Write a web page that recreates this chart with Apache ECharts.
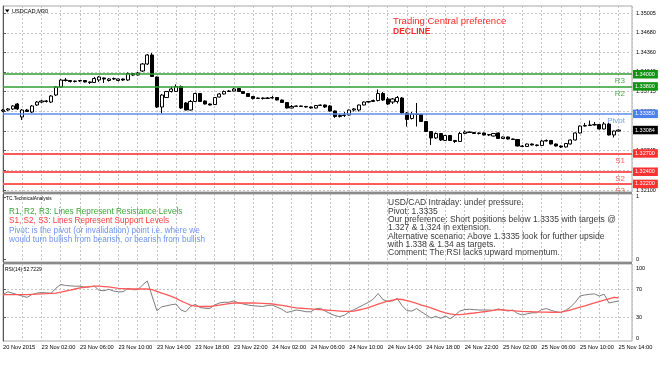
<!DOCTYPE html>
<html><head><meta charset="utf-8">
<script src="https://cdn.jsdelivr.net/npm/echarts@6/dist/echarts.min.js"></script>
<style>html,body{margin:0;padding:0;background:#fff}#c{width:660px;height:380px}</style>
</head><body><div id="c"></div>
<script>
// ---- data ----
const timeLabels = ['20 Nov 2015','23 Nov 02:00','23 Nov 06:00','23 Nov 10:00','23 Nov 14:00','23 Nov 18:00','23 Nov 22:00','24 Nov 02:00','24 Nov 06:00','24 Nov 10:00','24 Nov 14:00','24 Nov 18:00','24 Nov 22:00','25 Nov 02:00','25 Nov 06:00','25 Nov 10:00','25 Nov 14:00'];

const openP = [1.33397,1.33413,1.33430,1.33512,1.33298,1.33413,1.33380,1.33495,1.33544,1.33553,
1.33544,1.33659,1.33791,1.33905,1.33897,1.33881,1.33889,1.33897,1.33873,1.33864,
1.33905,1.33938,1.33897,1.33922,1.33897,1.33922,1.33905,1.34012,1.33987,1.34053,
1.34168,1.34316,1.33955,1.33462,1.33618,1.33717,1.33717,1.33799,1.33528,1.33413,
1.33553,1.33684,1.33561,1.33512,1.33503,1.33626,1.33676,1.33717,1.33725,1.33766,
1.33717,1.33684,1.33635,1.33602,1.33610,1.33602,1.33610,1.33618,1.33577,1.33536,
1.33446,1.33471,1.33479,1.33471,1.33462,1.33446,1.33487,1.33495,1.33479,1.33397,
1.33306,1.33323,1.33331,1.33413,1.33413,1.33495,1.33544,1.33553,1.33569,1.33684,
1.33594,1.33544,1.33553,1.33610,1.33364,1.33274,1.33347,1.33339,1.33224,1.33060,
1.32954,1.33027,1.32913,1.32995,1.32913,1.32896,1.33027,1.33052,1.33044,1.33027,
1.33036,1.33003,1.32986,1.33036,1.32945,1.32970,1.32937,1.32929,1.32822,1.32814,
1.32855,1.32839,1.32831,1.32904,1.32913,1.32855,1.32822,1.32806,1.32855,1.32921,
1.33036,1.33150,1.33159,1.33167,1.33175,1.33101,1.33183,1.33003,1.33068];
const closeP = [1.33413,1.33430,1.33479,1.33430,1.33413,1.33388,1.33479,1.33544,1.33561,1.33561,
1.33643,1.33791,1.33905,1.33897,1.33881,1.33889,1.33897,1.33873,1.33864,1.33930,
1.33955,1.33922,1.33922,1.33930,1.33922,1.33905,1.34012,1.33987,1.34020,1.34168,
1.34316,1.33963,1.33462,1.33659,1.33717,1.33758,1.33799,1.33446,1.33413,1.33553,
1.33684,1.33553,1.33512,1.33495,1.33618,1.33676,1.33717,1.33725,1.33758,1.33717,
1.33684,1.33635,1.33602,1.33610,1.33602,1.33610,1.33618,1.33577,1.33536,1.33446,
1.33471,1.33479,1.33471,1.33462,1.33446,1.33487,1.33495,1.33462,1.33397,1.33306,
1.33323,1.33331,1.33413,1.33430,1.33495,1.33544,1.33553,1.33569,1.33684,1.33577,
1.33512,1.33594,1.33618,1.33364,1.33257,1.33347,1.33339,1.33224,1.33060,1.32954,
1.33027,1.32921,1.32995,1.32913,1.32896,1.33027,1.33052,1.33044,1.33027,1.33036,
1.33003,1.33011,1.33027,1.32945,1.32970,1.32937,1.32929,1.32822,1.32814,1.32855,
1.32839,1.32831,1.32904,1.32913,1.32855,1.32822,1.32806,1.32863,1.32921,1.33036,
1.33150,1.33159,1.33167,1.33175,1.33101,1.33183,1.33003,1.33068,1.33084];
const lowP = [1.33380,1.33397,1.33413,1.33413,1.33249,1.33380,1.33364,1.33479,1.33528,1.33536,
1.33528,1.33643,1.33774,1.33881,1.33864,1.33864,1.33873,1.33864,1.33840,1.33856,
1.33873,1.33856,1.33881,1.33905,1.33881,1.33889,1.33889,1.33971,1.33979,1.34037,
1.34152,1.33955,1.33446,1.33356,1.33610,1.33700,1.33708,1.33430,1.33405,1.33405,
1.33544,1.33544,1.33503,1.33487,1.33495,1.33618,1.33667,1.33708,1.33717,1.33708,
1.33676,1.33626,1.33585,1.33594,1.33585,1.33594,1.33602,1.33569,1.33528,1.33438,
1.33438,1.33462,1.33462,1.33454,1.33438,1.33438,1.33479,1.33446,1.33388,1.33282,
1.33290,1.33298,1.33323,1.33388,1.33388,1.33487,1.33536,1.33544,1.33553,1.33561,
1.33495,1.33512,1.33520,1.33347,1.33142,1.33257,1.33142,1.33216,1.33052,1.32839,
1.32937,1.32904,1.32904,1.32904,1.32872,1.32888,1.33019,1.33036,1.33019,1.33011,
1.32995,1.32986,1.32978,1.32937,1.32937,1.32929,1.32921,1.32814,1.32806,1.32806,
1.32831,1.32814,1.32822,1.32896,1.32847,1.32814,1.32790,1.32798,1.32847,1.32913,
1.33027,1.33142,1.33150,1.33159,1.33093,1.33093,1.32995,1.32962,1.33060];
const highP = [1.33430,1.33446,1.33495,1.33528,1.33430,1.33430,1.33495,1.33561,1.33577,1.33577,
1.33659,1.33807,1.33922,1.33938,1.33905,1.33897,1.33905,1.33905,1.33881,1.33955,
1.33971,1.33946,1.33938,1.33946,1.33930,1.33930,1.34029,1.34020,1.34037,1.34184,
1.34332,1.34349,1.33963,1.33676,1.33725,1.33799,1.33832,1.33815,1.33544,1.33577,
1.33700,1.33692,1.33569,1.33520,1.33626,1.33692,1.33733,1.33741,1.33774,1.33774,
1.33725,1.33692,1.33643,1.33618,1.33618,1.33626,1.33643,1.33626,1.33585,1.33544,
1.33495,1.33487,1.33487,1.33479,1.33471,1.33495,1.33503,1.33503,1.33495,1.33405,
1.33347,1.33380,1.33421,1.33446,1.33503,1.33553,1.33561,1.33585,1.33750,1.33708,
1.33626,1.33610,1.33643,1.33626,1.33380,1.33380,1.33528,1.33347,1.33233,1.33068,
1.33044,1.33036,1.33003,1.33003,1.32921,1.33052,1.33076,1.33060,1.33052,1.33044,
1.33044,1.33019,1.33036,1.33044,1.32978,1.32978,1.32945,1.32937,1.32839,1.32863,
1.32863,1.32847,1.32921,1.32929,1.32921,1.32863,1.32831,1.32872,1.32929,1.33044,
1.33159,1.33200,1.33241,1.33216,1.33183,1.33216,1.33208,1.33076,1.33093];

const rsi = [62,66,64,62,60,58,62,64,65,64.5,
64,71,76.5,75,74.5,74,74,72.5,73,74,
68,67.5,69.5,67,66,66,71,69,69,75.5,
81.5,60,39,44.5,46,47.5,48.5,40,37.5,45,
48,43.5,42.5,42,47,50,51,51,53,50,
48.5,47,46,45.5,45,46.5,47,44,41,36.5,
38,40,39,37.5,37.5,41.5,42.5,38.5,35,32,
30.5,32.5,37.5,40.5,44,47.5,51,55.5,63.5,55,
52,53,56.5,46,39,38.5,42,37.5,33,28.5,
31,28,31.5,27.5,32.5,38.5,40.5,41,40.5,40,
40,40,39.5,41.5,40,38.5,40,35,33,34.5,
36,36,40.5,42,39.5,37.5,36.5,39.5,44,51,
60,61.5,62.5,63,60,62.5,50,51.5,52.72];
const rsiSignal = [62,62,62,62,62,62,62.3,62.6,63,63.3,
63.7,64.2,65.5,67,68.5,70,71.5,72.5,73.5,74,
74,73.5,73,72,71,70.5,70,70,70,70,
70,69,66.5,64,62,59.5,56.5,53,50,47,
45.5,45,45,45,46,47,48,49,50,50,
50,50,50,49.8,49.4,49,48.6,47.5,46.5,45.5,
44,43,42.5,42,41.5,41,40.5,40,39.5,39,
38.5,38,38,38.5,40,41.5,43.5,46,48.5,50.5,
52.5,54,55.5,55,53.5,51.5,49.5,47,45,43,
40.5,38,36,34.5,33.5,33.5,34,35,35.7,36.5,
37.5,38.5,39.5,40.5,40,39.5,39,38.5,38,37.8,
37.5,37.3,37,37,36.8,36.5,37,38.5,40,42,
44,46,48,50,52,54,56,58,57.5];

const priceTicks = [1.35005,1.34680,1.34360,1.34040,1.33715,1.33390,1.33070,1.32745,1.32420,1.32100];
const rsiLabelTicks = [0,30,70,100];
const rsiLevels = [30,70];
const levelValues = [1.34000,1.33800,1.33350,1.32700,1.32400,1.32200];
const levelNames = ['R3','R2','Pivot','S1','S2','S3'];
const lastPrice = 1.33084;

const legendLines = [
  'R1, R2, R3: Lines Represent Resistance Levels',
  'S1, S2, S3: Lines Represent Support Levels',
  'Pivot: is the pivot (or invalidation) point i.e. where we',
  'would turn bullish from bearish, or bearish from bullish'
];
const commentLines = [
  'USD/CAD Intraday: under pressure.',
  'Pivot: 1.3335',
  'Our preference: Short positions below 1.3335 with targets @',
  '1.327 & 1.324 in extension.',
  'Alternative scenario: Above 1.3335 look for further upside',
  'with 1.338 & 1.34 as targets.',
  'Comment: The RSI lacks upward momentum.'
];

// ---- styling ----
const FF = 'Liberation Sans, Arial, sans-serif';
const GRIDC = '#c4c4c4';
const levelLine = ['#2f9f2f','#2f9f2f','#5b8ef2','#ff5a5a','#ff5a5a','#ff5a5a'];
const levelText = ['#4fae4f','#4fae4f','#7aa2f5','#ff5c5c','#ff5c5c','#ff5c5c'];
const levelBox = ['#139313','#139313','#4c7ff0','#ff3030','#ff3030','#ff3030'];
const levelWidth = [1.6,1.6,1.5,2.2,2.2,2.2];

const candles = openP.map((o, i) => [i, o, closeP[i], lowP[i], highP[i]]);
const rsiData = rsi.map((v, i) => [i, v]);
const sigData = rsiSignal.map((v, i) => [i, v]);

const XMAX = 130.8;
function xAxisFor(g, showLabels) {
  return {
    gridIndex: g, type: 'value', min: 0, max: XMAX, interval: 4,
    axisLine: {show: false}, axisTick: {show: false},
    splitLine: {show: true, lineStyle: {color: GRIDC, type: [2, 2], width: 1}},
    axisLabel: {
      show: showLabels, showMaxLabel: false, align: 'left', margin: 3,
      fontSize: 5.7, fontFamily: FF, color: '#000',
      formatter: v => (v % 8 === 0 && v / 8 < timeLabels.length) ? timeLabels[v / 8] : ''
    }
  };
}

// level lines with their names (inside, below the line)
const levelMarks = levelValues.map((v, i) => ({
  yAxis: v,
  lineStyle: {color: levelLine[i], width: levelWidth[i], type: 'solid', opacity: 1},
  label: {show: true, position: 'insideEndBottom', formatter: levelNames[i],
    color: levelText[i], fontSize: 8, fontFamily: FF, distance: [7, 3]}
}));
// price boxes on the right axis
const boxVals = levelValues.concat([lastPrice]);
const boxCols = levelBox.concat(['#000']);
const boxMarks = boxVals.map((v, i) => ({
  yAxis: v,
  lineStyle: {color: 'rgba(0,0,0,0)', width: 1, opacity: 1},
  label: {show: true, position: 'end', distance: 1, formatter: v.toFixed(5),
    color: '#fff', backgroundColor: boxCols[i], padding: [1.5, 3, 1, 2],
    fontSize: 5.5, fontFamily: FF, opacity: 1}
}));

const chart = echarts.init(document.getElementById('c'), null, {renderer: 'canvas'});
const txt = (x, y, text, size, fill, extra) => ({
  type: 'text', x, y, z: 100,
  style: Object.assign({text, fontSize: size, fontFamily: FF, fill, verticalAlign: 'middle', align: 'left'}, extra || {})
});

chart.setOption({
  animation: false,
  backgroundColor: '#fff',
  grid: [
    {left: 3, top: 6, width: 629, height: 186, show: true, borderColor: '#a8a8a8', borderWidth: 1, backgroundColor: '#fff'},
    {left: 3, top: 194, width: 629, height: 68, show: true, borderColor: '#a8a8a8', borderWidth: 1, backgroundColor: '#fff'},
    {left: 3, top: 264, width: 629, height: 77, show: true, borderColor: '#a8a8a8', borderWidth: 1, backgroundColor: '#fff'}
  ],
  xAxis: [xAxisFor(0, false), xAxisFor(1, false), xAxisFor(2, true)],
  yAxis: [
    {gridIndex: 0, type: 'value', position: 'right', min: 1.320672, max: 1.351199,
      axisLine: {show: true, lineStyle: {color: '#555'}},
      axisTick: {show: true, length: 3, customValues: priceTicks, lineStyle: {color: '#555'}},
      axisLabel: {customValues: priceTicks, formatter: v => v.toFixed(5), fontSize: 5.5, fontFamily: FF, color: '#000', margin: 4},
      splitLine: {show: true, lineStyle: {color: GRIDC, type: [2, 2]}}},
    {gridIndex: 1, type: 'value', position: 'right', min: -0.048, max: 1.048,
      axisLine: {show: true, lineStyle: {color: '#555'}},
      axisTick: {show: true, length: 3, customValues: [0, 1], lineStyle: {color: '#555'}},
      axisLabel: {customValues: [0, 1], fontSize: 5.5, fontFamily: FF, color: '#000', margin: 4},
      splitLine: {show: false}},
    {gridIndex: 2, type: 'value', position: 'right', min: -4.3, max: 105.7,
      axisLine: {show: true, lineStyle: {color: '#555'}},
      axisTick: {show: true, length: 3, customValues: rsiLevels, lineStyle: {color: '#555'}},
      axisLabel: {customValues: rsiLabelTicks, fontSize: 5.5, fontFamily: FF, color: '#000', margin: 4},
      splitLine: {show: true, lineStyle: {color: GRIDC, type: [2, 2]}}}
  ],
  series: [
    {type: 'line', name: 'levels', xAxisIndex: 0, yAxisIndex: 0, data: [], symbol: 'none',
      markLine: {silent: true, symbol: 'none', animation: false, precision: 5, data: levelMarks}},
    {type: 'candlestick', xAxisIndex: 0, yAxisIndex: 0, data: candles, barWidth: 3.6, z: 3,
      itemStyle: {color: '#fff', color0: '#000', borderColor: '#000', borderColor0: '#000', borderWidth: 1}},
    {type: 'line', name: 'boxes', xAxisIndex: 0, yAxisIndex: 0, data: [], symbol: 'none', z: 5, clip: false,
      markLine: {silent: true, symbol: 'none', animation: false, precision: 5, data: boxMarks}},
    {type: 'line', xAxisIndex: 2, yAxisIndex: 2, data: rsiData, showSymbol: false, symbol: 'none',
      lineStyle: {color: '#7d7d7d', width: 1}},
    {type: 'line', xAxisIndex: 2, yAxisIndex: 2, data: sigData, showSymbol: false, symbol: 'none',
      lineStyle: {color: '#ff5a5a', width: 1.3}}
  ],
  graphic: [
    {type: 'rect', z: 90, shape: {x: 3, y: 192, width: 629, height: 2}, style: {fill: '#8a8a8a'}},
    {type: 'rect', z: 90, shape: {x: 3, y: 262, width: 629, height: 2}, style: {fill: '#8a8a8a'}},
    {type: 'polygon', z: 100, shape: {points: [[5, 9.5], [9.5, 9.5], [7.25, 12.5]]}, style: {fill: '#000'}},
    txt(12, 11, 'USDCAD,M30', 5.6, '#000'),
    txt(393, 21, 'Trading Central preference', 9.5, '#ff2a2a'),
    txt(393, 32, 'DECLINE', 8.5, '#ff2a2a', {fontWeight: 'bold'}),
    txt(6, 199, 'TC.TechnicalAnalysis', 4.8, '#000'),
    txt(9, 211.7, legendLines[0], 8.2, '#3aa53a'),
    txt(9, 221.1, legendLines[1], 8.2, '#ff3b3b'),
    txt(9, 230.6, legendLines[2], 8.2, '#6b95f0'),
    txt(9, 240, legendLines[3], 8.2, '#6b95f0'),
    txt(388, 199, commentLines.join('\n'), 8.5, '#3a3a3a', {verticalAlign: 'top', lineHeight: 8.3}),
    txt(5, 270, 'RSI(14) 52.7229', 5, '#000')
  ]
});
</script></body></html>
